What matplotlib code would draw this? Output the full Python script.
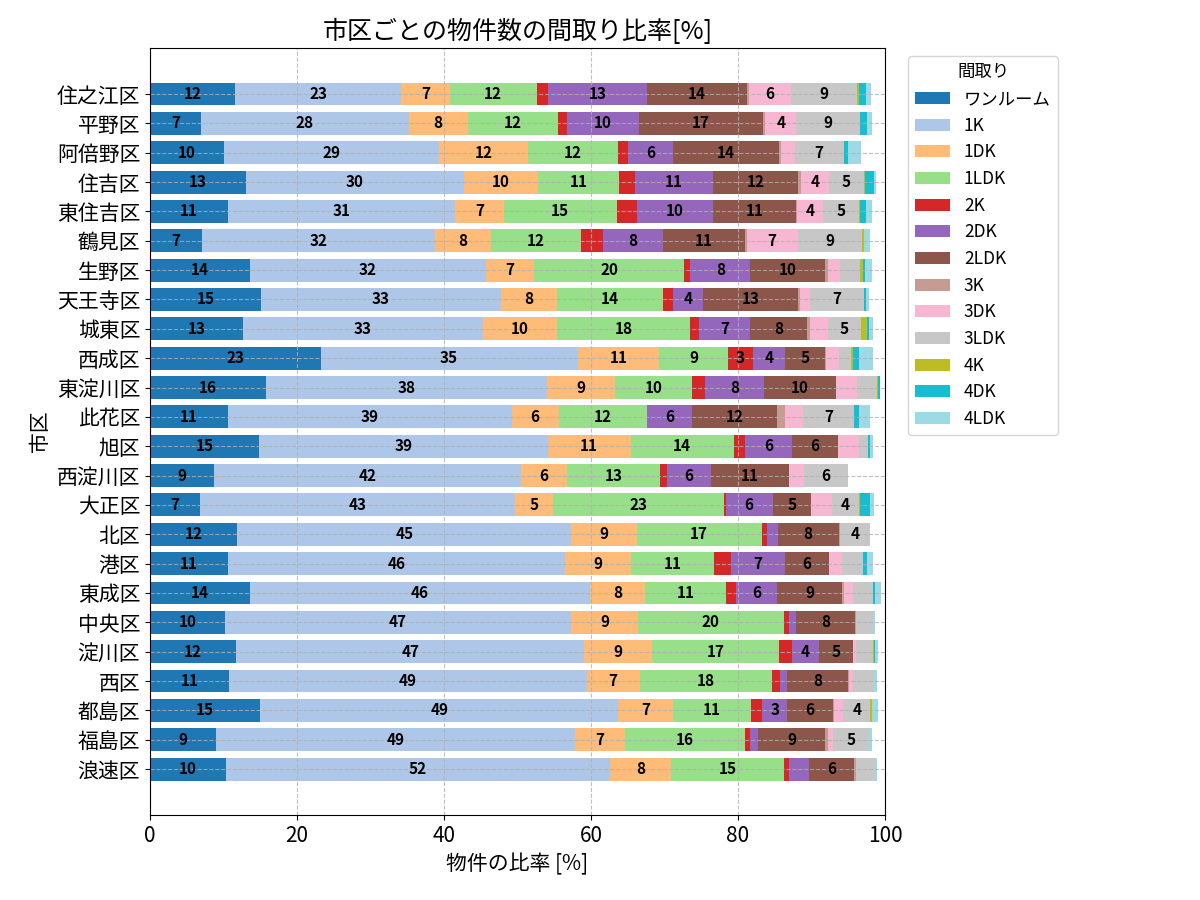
import numpy as np
import matplotlib
matplotlib.use("Agg")
import matplotlib.pyplot as plt

plt.rcParams['font.family'] = ['Noto Sans CJK JP', 'DejaVu Sans']

# 市区 (上から順)
districts = ['住之江区', '平野区', '阿倍野区', '住吉区', '東住吉区', '鶴見区', '生野区', '天王寺区',
             '城東区', '西成区', '東淀川区', '此花区', '旭区', '西淀川区', '大正区', '北区',
             '港区', '東成区', '中央区', '淀川区', '西区', '都島区', '福島区', '浪速区']

layouts = ['ワンルーム', '1K', '1DK', '1LDK', '2K', '2DK', '2LDK', '3K', '3DK', '3LDK', '4K', '4DK', '4LDK']

# 間取りごとの比率[%]
one_room = [11.6, 6.9, 10.1, 13.0, 10.6, 7.1, 13.6, 15.1, 12.6, 23.2, 15.8, 10.6, 14.8, 8.7, 6.8, 11.9, 10.6, 13.6, 10.2, 11.7, 10.7, 15.0, 9.0, 10.3]
k1 = [22.6, 28.3, 29.2, 29.7, 30.9, 31.7, 32.1, 32.6, 32.7, 35.0, 38.2, 38.6, 39.3, 41.8, 42.8, 45.4, 45.9, 46.2, 47.1, 47.4, 48.7, 48.7, 48.8, 52.3]
dk1 = [6.6, 8.0, 12.1, 10.1, 6.6, 7.6, 6.6, 7.7, 10.1, 11.1, 9.3, 6.4, 11.3, 6.2, 5.2, 8.9, 9.0, 7.6, 9.1, 9.2, 7.2, 7.4, 6.8, 8.3]
ldk1 = [11.8, 12.3, 12.3, 11.0, 15.4, 12.3, 20.3, 14.4, 18.1, 9.3, 10.4, 12.0, 14.0, 12.7, 23.3, 17.0, 11.3, 11.0, 19.8, 17.3, 18.0, 10.7, 16.3, 15.4]
k2 = [1.6, 1.2, 1.3, 2.2, 2.7, 2.9, 0.9, 1.3, 1.2, 3.4, 1.8, 0, 1.6, 0.9, 0.2, 0.8, 2.3, 1.3, 0.7, 1.7, 1.1, 1.5, 0.7, 0.6]
dk2 = [13.4, 9.8, 6.2, 10.6, 10.4, 8.2, 8.2, 4.2, 6.9, 4.4, 8.0, 6.1, 6.3, 6.0, 6.4, 1.4, 7.3, 5.6, 1.0, 3.7, 0.9, 3.4, 1.1, 2.7]
ldk2 = [13.6, 16.9, 14.4, 11.6, 11.3, 11.1, 10.1, 12.9, 7.8, 5.4, 9.9, 11.6, 6.3, 10.7, 5.2, 8.3, 6.0, 8.9, 8.0, 4.6, 8.4, 6.2, 9.2, 6.2]
k3 = [0.3, 0.3, 0.2, 0.4, 0.1, 0.3, 0.4, 0.3, 0.4, 0.2, 0, 1.1, 0, 0, 0, 0.2, 0, 0.2, 0.2, 0, 0.1, 0.2, 0.3, 0.2]
dk3 = [5.7, 4.2, 1.9, 3.8, 3.6, 6.9, 1.7, 1.3, 2.4, 1.8, 2.8, 2.5, 2.8, 2.0, 2.9, 0, 1.7, 1.3, 0, 0.5, 0.6, 1.2, 0.7, 0]
ldk3 = [9.0, 8.7, 6.7, 4.7, 4.8, 8.8, 2.7, 7.4, 4.6, 1.6, 2.7, 6.9, 1.3, 6.0, 3.6, 4.1, 2.9, 2.7, 2.3, 2.2, 2.8, 3.7, 4.9, 2.6]
k4 = [0.2, 0, 0, 0.2, 0.2, 0.2, 0.4, 0, 0.7, 0.3, 0.2, 0, 0, 0, 0.2, 0, 0, 0, 0, 0.2, 0, 0.2, 0, 0]
dk4 = [1.0, 1.0, 0.5, 1.2, 0.8, 0, 0.3, 0.2, 0.3, 0.8, 0.2, 0.7, 0.3, 0, 1.3, 0, 0.5, 0.2, 0, 0.1, 0, 0, 0, 0]
ldk4 = [0.7, 0.6, 1.8, 0.3, 0.8, 0.9, 0.9, 0.4, 0.6, 1.9, 0, 1.5, 0.4, 0, 0.6, 0, 0.9, 0.8, 0.3, 0.4, 0.4, 0.8, 0.4, 0.3]

series = [one_room, k1, dk1, ldk1, k2, dk2, ldk2, k3, dk3, ldk3, k4, dk4, ldk4]

colors = plt.cm.tab20(np.linspace(0, 1, len(layouts)))

fig, ax = plt.subplots(figsize=(12, 9), dpi=100)
fig.subplots_adjust(left=0.125, right=0.7375, top=0.947, bottom=0.094)

left = np.zeros(len(districts))
for name, vals, c in zip(layouts, series, colors):
    vals = np.array(vals)
    bars = ax.barh(districts, vals, left=left, color=c, label=name, height=0.78)
    labels = [f"{v:.0f}" if v >= 3 else "" for v in vals]
    ax.bar_label(bars, labels=labels, label_type='center', fontsize=11, fontweight='bold')
    left += vals

ax.invert_yaxis()
ax.set_xlim(0, 100)
ax.grid(linestyle='--', alpha=0.8)
ax.tick_params(axis='both', labelsize=15)
ax.set_xlabel('物件の比率 [%]', fontsize=15)
ax.set_ylabel('市区', fontsize=15)
ax.set_title('市区ごとの物件数の間取り比率[%]', fontsize=18)
ax.legend(title='間取り', loc='upper left', bbox_to_anchor=(1.02, 1), fontsize=12.5, title_fontsize=12.5)

plt.savefig('out.png')
